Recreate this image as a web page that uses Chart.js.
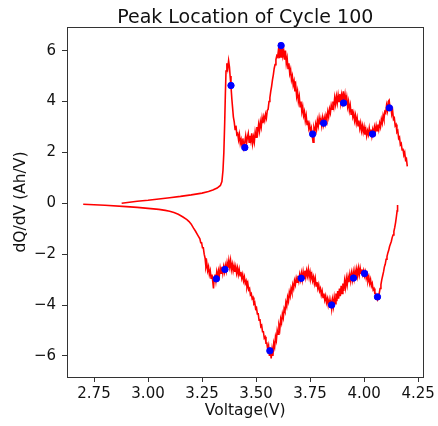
<!DOCTYPE html>
<html>
<head>
<meta charset="utf-8">
<script src="https://cdn.jsdelivr.net/npm/chart.js@4/dist/chart.umd.min.js"></script>
<style>
html,body{margin:0;padding:0;background:#fff;}
canvas{display:block;}
</style>
</head>
<body>
<canvas id="c" width="438" height="426" style="width:438px;height:426px"></canvas>
<script>
// Charge branch (positive dQ/dV)
const vC = [2.878,2.95,3.00,3.05,3.10,3.15,3.20,3.25,3.28,3.30,3.32,3.335,3.342,3.347,3.351,3.355,3.358,3.361,3.365,3.369,3.373,3.377,3.380,3.384,3.388,3.391,3.395,3.399,3.403,3.407,3.411,3.415,3.419,3.423,3.427,3.431,3.435,3.439,3.443,3.448,3.452,3.456,3.460,3.464,3.468,3.472,3.476,3.480,3.484,3.488,3.492,3.496,3.500,3.504,3.508,3.512,3.516,3.520,3.524,3.528,3.532,3.536,3.540,3.544,3.548,3.552,3.556,3.560,3.564,3.568,3.572,3.576,3.580,3.584,3.588,3.592,3.596,3.600,3.604,3.608,3.612,3.616,3.620,3.624,3.628,3.632,3.636,3.640,3.644,3.648,3.652,3.656,3.660,3.664,3.668,3.672,3.676,3.680,3.684,3.688,3.692,3.696,3.700,3.704,3.708,3.712,3.716,3.720,3.724,3.728,3.732,3.736,3.740,3.744,3.748,3.752,3.756,3.760,3.764,3.768,3.772,3.776,3.780,3.784,3.788,3.792,3.796,3.800,3.804,3.808,3.812,3.816,3.820,3.824,3.828,3.832,3.836,3.840,3.844,3.848,3.852,3.856,3.860,3.864,3.868,3.872,3.876,3.880,3.884,3.888,3.892,3.896,3.900,3.904,3.908,3.912,3.916,3.920,3.924,3.928,3.932,3.936,3.940,3.944,3.948,3.952,3.956,3.960,3.964,3.968,3.972,3.976,3.980,3.984,3.988,3.992,3.996,4.000,4.004,4.008,4.012,4.016,4.020,4.024,4.028,4.032,4.036,4.040,4.044,4.048,4.052,4.056,4.060,4.064,4.068,4.072,4.076,4.080,4.084,4.088,4.092,4.096,4.100,4.104,4.108,4.112,4.116,4.120,4.124,4.128,4.132,4.136,4.140,4.144,4.148,4.152,4.156,4.160,4.164,4.168,4.172,4.176,4.180,4.184,4.188,4.192,4.196,4.200];
const qC = [0.00,0.08,0.12,0.17,0.22,0.27,0.33,0.40,0.46,0.52,0.60,0.70,0.85,1.3,2.0,3.2,4.3,5.2,5.5,5.3,5.6,5.35,5.0,4.6,4.1,3.8,3.4,3.2,2.9,3.05,2.7,2.75,2.5,2.7,2.35,2.5,2.25,2.55,2.2,2.4,2.65,2.35,2.6,2.75,2.4,2.65,2.45,2.75,2.35,2.6,2.4,2.8,2.6,3.0,2.8,3.1,2.85,3.2,3.0,3.35,3.15,3.4,3.25,3.5,3.35,3.65,3.7,4.0,4.15,4.4,4.6,4.85,5.05,5.3,5.45,5.65,5.8,5.75,6.05,5.7,6.1,5.75,6.15,5.8,6.0,5.65,6.0,5.5,5.7,5.3,5.5,5.1,5.25,4.85,5.0,4.65,4.8,4.4,4.6,4.2,4.4,4.0,4.2,3.8,4.0,3.6,3.8,3.45,3.6,3.25,3.45,3.1,3.25,2.95,3.1,2.8,2.95,2.65,2.4,2.95,2.8,3.1,2.9,3.25,3.05,3.35,3.1,3.3,3.05,3.35,3.1,3.35,3.15,3.45,3.3,3.6,3.4,3.7,3.55,3.85,3.7,4.0,3.8,4.15,3.9,4.2,3.95,4.25,4.0,4.3,3.95,4.25,4.0,4.4,3.95,4.25,3.9,4.15,3.8,4.0,3.65,3.85,3.5,3.7,3.4,3.55,3.25,3.45,3.15,3.35,3.05,3.25,2.95,3.15,2.85,3.05,2.8,3.0,2.7,2.9,2.65,2.85,2.7,2.95,2.7,2.9,2.65,2.9,2.75,3.0,2.8,3.05,2.85,3.1,2.9,3.15,3.0,3.3,3.15,3.45,3.3,3.6,3.55,3.85,3.65,4.0,4.05,3.75,3.8,3.5,3.65,3.3,3.35,3.05,3.1,2.8,2.85,2.55,2.6,2.3,2.35,2.1,2.15,1.9,2.0,1.7,1.75,1.45];

// Discharge branch (negative dQ/dV)
const vD = [2.700,2.80,2.90,2.95,3.00,3.05,3.08,3.10,3.12,3.14,3.16,3.18,3.19,3.20,3.21,3.22,3.23,3.240,3.244,3.248,3.252,3.256,3.260,3.264,3.268,3.272,3.276,3.280,3.284,3.288,3.292,3.296,3.300,3.303,3.306,3.310,3.314,3.318,3.322,3.326,3.330,3.334,3.338,3.342,3.346,3.350,3.354,3.358,3.362,3.366,3.370,3.374,3.378,3.382,3.386,3.390,3.394,3.398,3.402,3.406,3.410,3.414,3.418,3.422,3.426,3.430,3.434,3.438,3.442,3.446,3.450,3.454,3.458,3.462,3.466,3.470,3.474,3.478,3.482,3.486,3.490,3.494,3.498,3.502,3.506,3.510,3.514,3.518,3.522,3.526,3.530,3.534,3.538,3.542,3.546,3.550,3.554,3.558,3.562,3.566,3.570,3.574,3.578,3.582,3.586,3.590,3.594,3.598,3.602,3.606,3.610,3.614,3.618,3.622,3.626,3.630,3.634,3.638,3.642,3.646,3.650,3.654,3.658,3.662,3.666,3.670,3.674,3.678,3.682,3.686,3.690,3.694,3.698,3.702,3.706,3.710,3.714,3.718,3.722,3.726,3.730,3.734,3.738,3.742,3.746,3.750,3.754,3.758,3.762,3.766,3.770,3.774,3.778,3.782,3.786,3.790,3.794,3.798,3.802,3.806,3.810,3.814,3.818,3.822,3.826,3.830,3.834,3.838,3.842,3.846,3.850,3.854,3.858,3.862,3.866,3.870,3.874,3.878,3.882,3.886,3.890,3.894,3.898,3.902,3.906,3.910,3.914,3.918,3.922,3.926,3.930,3.934,3.938,3.942,3.946,3.950,3.954,3.958,3.962,3.966,3.970,3.974,3.978,3.982,3.986,3.990,3.994,3.998,4.002,4.006,4.010,4.014,4.018,4.022,4.026,4.030,4.034,4.038,4.042,4.046,4.050,4.054,4.058,4.062,4.066,4.070,4.074,4.078,4.082,4.086,4.090,4.094,4.098,4.102,4.106,4.110,4.114,4.118,4.122,4.126,4.130,4.134,4.138,4.142,4.146,4.150,4.153,4.155];
const qD = [-0.04,-0.08,-0.13,-0.16,-0.20,-0.24,-0.28,-0.31,-0.36,-0.43,-0.53,-0.64,-0.72,-0.82,-0.97,-1.10,-1.25,-1.40,-1.55,-1.55,-1.75,-1.75,-2.0,-2.15,-2.5,-2.35,-2.65,-2.5,-2.8,-2.65,-2.95,-2.8,-3.1,-3.35,-2.95,-2.8,-3.05,-2.7,-2.9,-2.65,-2.85,-2.55,-2.75,-2.5,-2.75,-2.5,-2.7,-2.45,-2.65,-2.35,-2.55,-2.25,-2.5,-2.25,-2.6,-2.4,-2.65,-2.45,-2.7,-2.5,-2.75,-2.55,-2.8,-2.6,-2.85,-2.7,-2.95,-2.8,-3.05,-2.9,-3.15,-3.05,-3.3,-3.15,-3.4,-3.35,-3.6,-3.55,-3.75,-3.7,-3.95,-3.9,-4.15,-4.1,-4.35,-4.35,-4.6,-4.55,-4.85,-4.8,-5.05,-5.05,-5.3,-5.25,-5.5,-5.5,-5.75,-5.6,-6.0,-5.7,-6.1,-5.75,-6.0,-5.5,-5.65,-5.25,-5.4,-5.0,-5.15,-4.8,-4.95,-4.55,-4.7,-4.35,-4.5,-4.15,-4.25,-3.9,-4.05,-3.7,-3.85,-3.5,-3.65,-3.35,-3.5,-3.2,-3.35,-3.05,-3.2,-2.95,-3.1,-2.85,-3.05,-2.8,-3.0,-2.75,-3.0,-2.7,-2.95,-2.65,-2.9,-2.65,-2.85,-2.6,-2.9,-2.7,-2.95,-2.8,-3.05,-2.9,-3.15,-2.95,-3.25,-3.1,-3.35,-3.2,-3.45,-3.35,-3.6,-3.45,-3.7,-3.55,-3.8,-3.65,-3.9,-3.75,-4.0,-3.8,-4.1,-3.85,-4.15,-3.8,-4.05,-3.7,-3.95,-3.55,-3.85,-3.45,-3.75,-3.35,-3.65,-3.25,-3.55,-3.15,-3.45,-3.05,-3.3,-2.95,-3.2,-2.9,-3.1,-2.8,-3.05,-2.75,-3.0,-2.7,-2.95,-2.65,-2.9,-2.6,-2.85,-2.55,-2.8,-2.55,-2.75,-2.6,-2.8,-2.65,-2.85,-2.7,-2.95,-2.8,-3.05,-2.9,-3.15,-3.0,-3.25,-3.15,-3.4,-3.35,-3.55,-3.55,-3.75,-3.8,-3.6,-3.55,-3.35,-3.2,-3.0,-2.85,-2.7,-2.5,-2.4,-2.2,-2.1,-1.95,-1.85,-1.7,-1.6,-1.5,-1.35,-1.25,-1.1,-0.95,-0.75,-0.5,-0.3,-0.07];

// Detected peaks
const peakVC = [3.384,3.448,3.616,3.762,3.813,3.905,4.039,4.117];
const peakQC = [4.63,2.19,6.20,2.72,3.15,3.94,2.72,3.75];
const peakVD = [3.316,3.356,3.564,3.709,3.850,3.951,4.002,4.062];
const peakQD = [-2.97,-2.60,-5.80,-2.95,-4.00,-2.94,-2.76,-3.68];

const xTicks = [2.75,3.00,3.25,3.50,3.75,4.00,4.25];
const yTicks = [-6,-4,-2,0,2,4,6];
const titleText = 'Peak Location of Cycle 100';
const xLabel = 'Voltage(V)';
const yLabel = 'dQ/dV (Ah/V)';

const pts = (xs, ys) => xs.map((x, i) => ({x: x, y: ys[i]}));
const FONT = 'DejaVu Sans';

const frame = {
  id: 'frame',
  afterDatasetsDraw(chart) {
    const a = chart.chartArea, ctx = chart.ctx;
    ctx.save();
    ctx.strokeStyle = '#333';
    ctx.lineWidth = 1;
    ctx.strokeRect(Math.round(a.left) + 0.5, Math.round(a.top) + 0.5, Math.round(a.right - a.left), Math.round(a.bottom - a.top));
    ctx.restore();
  },
  afterDraw(chart) {
    const a = chart.chartArea, ctx = chart.ctx;
    ctx.save();
    ctx.fillStyle = '#111';
    ctx.font = '19px "' + FONT + '"';
    ctx.textAlign = 'center';
    ctx.textBaseline = 'alphabetic';
    ctx.fillText(titleText, (a.left + a.right) / 2, 23);
    ctx.restore();
  }
};

new Chart(document.getElementById('c'), {
  type: 'scatter',
  data: {
    datasets: [
      {data: pts(peakVC, peakQC), backgroundColor: '#0000ff', borderColor: '#0000ff', pointRadius: 3.2, showLine: false, order: 0},
      {data: pts(peakVD, peakQD), backgroundColor: '#0000ff', borderColor: '#0000ff', pointRadius: 3.2, showLine: false, order: 0},
      {data: pts(vC, qC), borderColor: '#ff0000', borderWidth: 1.6, pointRadius: 0, showLine: true, tension: 0, order: 1},
      {data: pts(vD, qD), borderColor: '#ff0000', borderWidth: 1.6, pointRadius: 0, showLine: true, tension: 0, order: 1}
    ]
  },
  options: {
    responsive: false,
    devicePixelRatio: 1,
    animation: false,
    layout: {padding: {left: 0, right: 14, top: 27, bottom: 0}},
    plugins: {
      legend: {display: false},
      tooltip: {enabled: false},
      title: {display: false}
    },
    scales: {
      x: {
        type: 'linear', min: 2.625, max: 4.275,
        afterBuildTicks: s => { s.ticks = xTicks.map(v => ({value: v})); },
        afterFit: s => { s.height = 49; },
        ticks: {color: '#111', font: {family: FONT, size: 15}, padding: 3, maxRotation: 0, autoSkip: false, callback: v => v.toFixed(2)},
        grid: {display: true, drawOnChartArea: false, drawTicks: true, tickLength: 5, color: '#333'},
        border: {display: false},
        title: {display: true, text: xLabel, color: '#111', font: {family: FONT, size: 15.5}, padding: {top: 0, bottom: 6}}
      },
      y: {
        type: 'linear', min: -6.83, max: 6.93,
        afterBuildTicks: s => { s.ticks = yTicks.map(v => ({value: v})); },
        afterFit: s => { s.width = 67; },
        ticks: {color: '#111', font: {family: FONT, size: 15}, padding: 6, autoSkip: false, callback: v => String(v).replace('-', '\u2212')},
        grid: {display: true, drawOnChartArea: false, drawTicks: true, tickLength: 5, color: '#333'},
        border: {display: false},
        title: {display: true, text: yLabel, color: '#111', font: {family: FONT, size: 15.5}, padding: {top: 12, bottom: 0}}
      }
    }
  },
  plugins: [frame]
});
</script>
</body>
</html>
